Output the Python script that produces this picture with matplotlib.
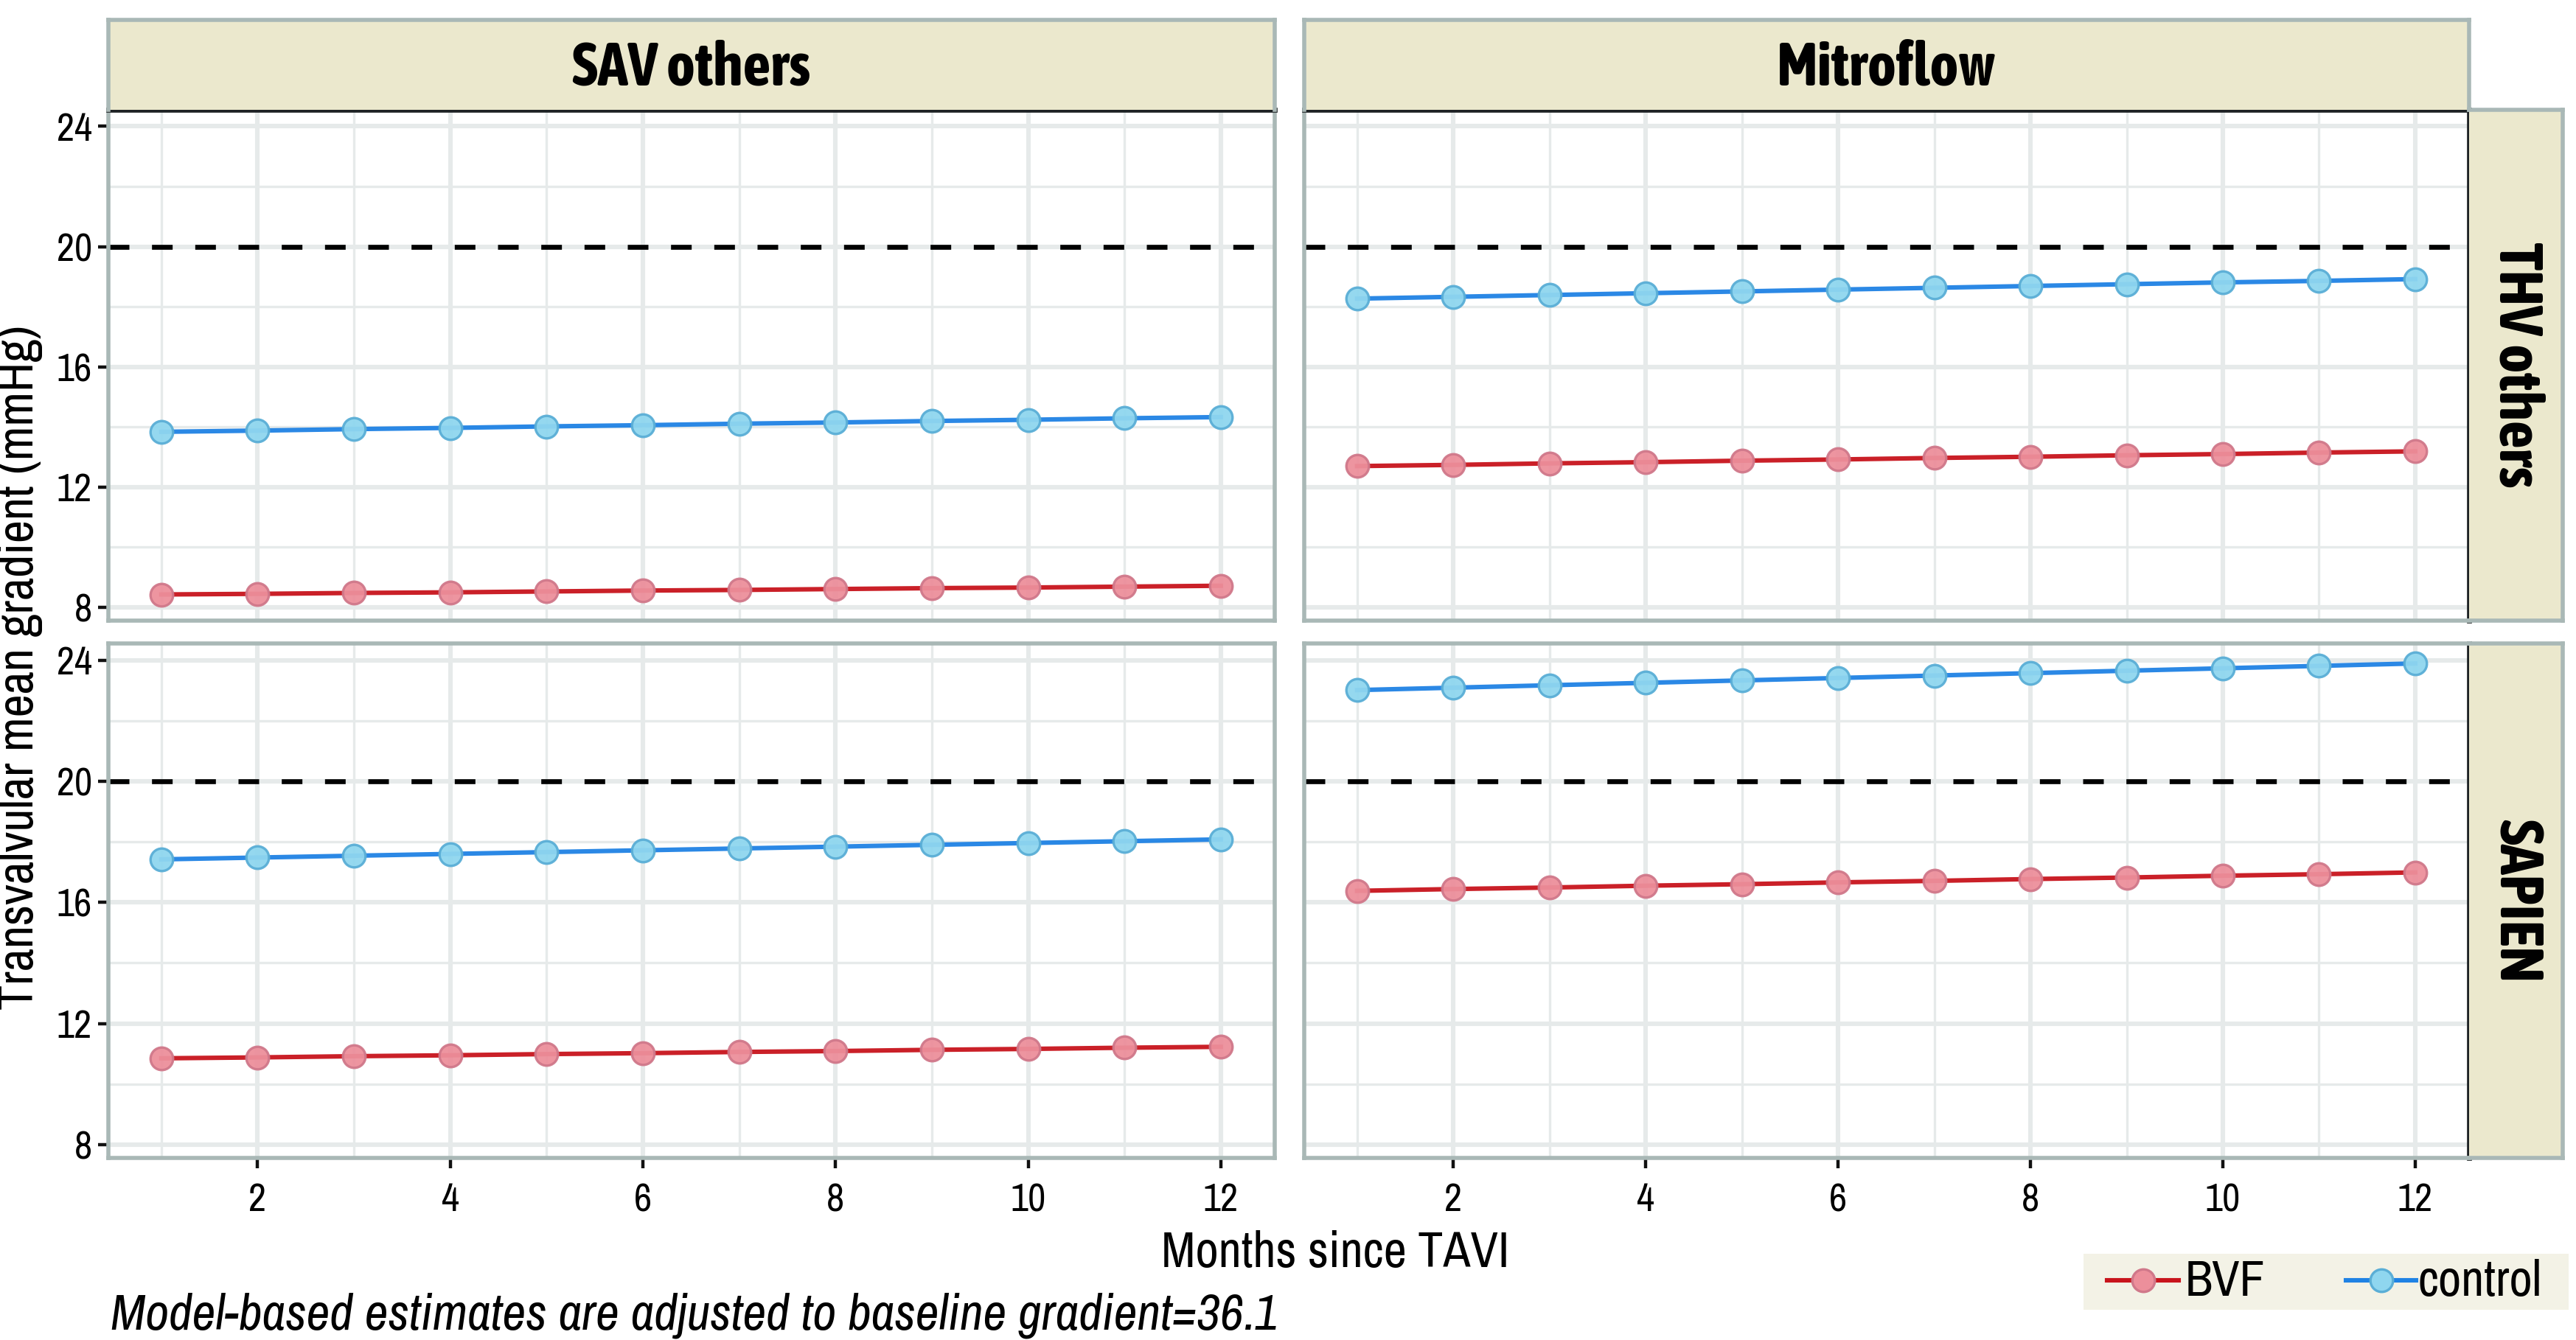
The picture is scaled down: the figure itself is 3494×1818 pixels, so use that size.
import matplotlib
matplotlib.use("Agg")
import matplotlib.pyplot as plt
from matplotlib.lines import Line2D
from matplotlib import font_manager

# ---------------- data ----------------
months = [1, 2, 3, 4, 5, 6, 7, 8, 9, 10, 11, 12]
col_labels = ["SAV others", "Mitroflow"]
row_labels = ["THV others", "SAPIEN"]

# THV others / SAV others
bvf_thv_sav = [8.43, 8.45, 8.48, 8.50, 8.53, 8.56, 8.58, 8.61, 8.64, 8.66, 8.69, 8.72]
ctl_thv_sav = [13.84, 13.88, 13.93, 13.97, 14.02, 14.06, 14.11, 14.15, 14.20, 14.24, 14.29, 14.33]
# THV others / Mitroflow
bvf_thv_mit = [12.70, 12.74, 12.79, 12.83, 12.88, 12.92, 12.97, 13.01, 13.06, 13.10, 13.15, 13.19]
ctl_thv_mit = [18.27, 18.33, 18.39, 18.45, 18.51, 18.57, 18.63, 18.69, 18.75, 18.81, 18.86, 18.92]
# SAPIEN / SAV others
bvf_sap_sav = [10.85, 10.88, 10.92, 10.95, 10.99, 11.02, 11.06, 11.09, 11.13, 11.16, 11.20, 11.23]
ctl_sap_sav = [17.42, 17.48, 17.54, 17.60, 17.66, 17.72, 17.78, 17.84, 17.90, 17.96, 18.02, 18.08]
# SAPIEN / Mitroflow
bvf_sap_mit = [16.38, 16.44, 16.49, 16.55, 16.60, 16.66, 16.71, 16.77, 16.82, 16.88, 16.93, 16.99]
ctl_sap_mit = [23.01, 23.09, 23.17, 23.25, 23.33, 23.41, 23.49, 23.57, 23.65, 23.73, 23.81, 23.89]

threshold = 20
x_ticks = [2, 4, 6, 8, 10, 12]
y_ticks = [8, 12, 16, 20, 24]
series_names = ["BVF", "control"]

panels = {
    (0, 0): (bvf_thv_sav, ctl_thv_sav),
    (0, 1): (bvf_thv_mit, ctl_thv_mit),
    (1, 0): (bvf_sap_sav, ctl_sap_sav),
    (1, 1): (bvf_sap_mit, ctl_sap_mit),
}

# ---------------- fonts ----------------
def _w(v):
    if isinstance(v, (int, float)):
        return v
    return font_manager.weight_dict.get(str(v).lower(), 400)

narrow = {}
for f in font_manager.fontManager.ttflist:
    if "Narrow" in f.name or "Condensed" in f.name:
        narrow.setdefault(f.name, set()).add((_w(f.weight), f.style))
names = sorted(narrow)
FONT = None
for n in names:
    if any(w < 500 and s == "normal" for w, s in narrow[n]):
        FONT = n
        break
BOLD_FONT = None
for n in names:
    if any(w >= 600 and s == "normal" for w, s in narrow[n]):
        BOLD_FONT = n
        break
ITAL_FONT = None
for n in names:
    if any(w < 500 and s in ("italic", "oblique") for w, s in narrow[n]):
        ITAL_FONT = n
        break
if FONT is None:
    FONT = "Liberation Sans"
if BOLD_FONT is None:
    BOLD_FONT = FONT
if ITAL_FONT is None:
    ITAL_FONT = FONT
plt.rcParams["font.family"] = [FONT, "DejaVu Sans"]

W, H = 3494, 1818
DPI = 200
fig = plt.figure(figsize=(W / DPI, H / DPI), dpi=DPI)
fig.patch.set_facecolor("white")

def fx(px):
    return px / W

def fy(py):
    return 1 - py / H

col_x = [(147, 1729), (1769, 3349)]
row_y = [(149, 842), (873, 1571)]
strip_top = (27, 149)
strip_right = (3349, 3476)

BORDER = "#a9b8b6"
GRID = "#e6eaea"
STRIP = "#ebe8cd"
BVF_LINE = "#c8141c"
BVF_FILL = "#ec8f9b"
BVF_EDGE = "#d0788a"
CTL_LINE = "#1f82e4"
CTL_FILL = "#8fd6ef"
CTL_EDGE = "#5aaed6"

xlim = (0.45, 12.56)
ylim = (7.56, 24.55)

TICK_FS = 19
STRIP_FS = 30
LAB_FS = 24.5
CAP_FS = 25

for (r, c), (bvf, ctl) in panels.items():
    x0, x1 = col_x[c]
    y0, y1 = row_y[r]
    ax = fig.add_axes([fx(x0), fy(y1), fx(x1 - x0), (y1 - y0) / H])
    ax.set_xlim(*xlim)
    ax.set_ylim(*ylim)
    ax.set_facecolor("white")
    for xv in [1, 3, 5, 7, 9, 11]:
        ax.axvline(xv, color=GRID, lw=1.2, zorder=0)
    for xv in x_ticks:
        ax.axvline(xv, color=GRID, lw=2.2, zorder=0)
    for yv in [10, 14, 18, 22]:
        ax.axhline(yv, color=GRID, lw=1.2, zorder=0)
    for yv in y_ticks:
        ax.axhline(yv, color=GRID, lw=2.2, zorder=0)
    ax.axhline(threshold, color="black", lw=2.4, dashes=(4.2, 4.6), zorder=1)

    ax.plot(months, bvf, color=BVF_LINE, lw=2.2, marker="o", ms=11,
            mfc=BVF_FILL, mec=BVF_EDGE, mew=1.2, alpha=0.95, zorder=3)
    ax.plot(months, ctl, color=CTL_LINE, lw=2.2, marker="o", ms=11,
            mfc=CTL_FILL, mec=CTL_EDGE, mew=1.2, alpha=0.95, zorder=3)

    for sp in ax.spines.values():
        sp.set_color(BORDER)
        sp.set_linewidth(2.0)
    if r == 0:
        ax.spines["top"].set_color("#1e2224")
        ax.spines["top"].set_linewidth(2.4)
    if c == 1:
        ax.spines["right"].set_color("#1e2224")
        ax.spines["right"].set_linewidth(2.4)

    ax.set_xticks(x_ticks)
    ax.set_yticks(y_ticks)
    ax.tick_params(axis="both", length=5, width=1.6, color="#111111",
                   labelsize=TICK_FS, pad=3)
    if c == 0:
        ax.set_yticklabels([str(v) for v in y_ticks])
    else:
        ax.tick_params(axis="y", left=False, labelleft=False)
    if r == 1:
        ax.set_xticklabels([str(v) for v in x_ticks])
        ax.tick_params(axis="x", pad=7)
    else:
        ax.tick_params(axis="x", bottom=False, labelbottom=False)

# top strips
for c, lab in enumerate(col_labels):
    x0, x1 = col_x[c]
    sax = fig.add_axes([fx(x0), fy(strip_top[1]), fx(x1 - x0), (strip_top[1] - strip_top[0]) / H])
    sax.set_facecolor(STRIP)
    sax.set_xticks([]); sax.set_yticks([])
    for sp in sax.spines.values():
        sp.set_color(BORDER); sp.set_linewidth(2.0)
    sax.spines["bottom"].set_visible(False)
    sax.text(0.5, 0.46, lab, ha="center", va="center", fontsize=STRIP_FS,
             fontweight="bold", family=[BOLD_FONT, "DejaVu Sans"], transform=sax.transAxes)

# right strips
for r, lab in enumerate(row_labels):
    y0, y1 = row_y[r]
    sax = fig.add_axes([fx(strip_right[0]), fy(y1), fx(strip_right[1] - strip_right[0]), (y1 - y0) / H])
    sax.set_facecolor(STRIP)
    sax.set_xticks([]); sax.set_yticks([])
    for sp in sax.spines.values():
        sp.set_color(BORDER); sp.set_linewidth(2.0)
    sax.spines["left"].set_visible(False)
    sax.text(0.5, 0.5, lab, ha="center", va="center", fontsize=STRIP_FS,
             fontweight="bold", family=[BOLD_FONT, "DejaVu Sans"], rotation=270,
             transform=sax.transAxes)

# axis titles
fig.text(fx(26), fy(905), "Transvalvular mean gradient (mmHg)",
         rotation=90, ha="center", va="center", fontsize=LAB_FS)
fig.text(fx(1811), fy(1700), "Months since TAVI", ha="center", va="center", fontsize=LAB_FS)
fig.text(fx(150), fy(1785), "Model-based estimates are adjusted to baseline gradient=36.1",
         ha="left", va="center", fontsize=CAP_FS, style="italic",
         family=[ITAL_FONT, "DejaVu Sans"])

# legend (manual layout inside a shaded box)
LX0, LX1, LY0, LY1 = 2826, 3484, 1701, 1777
lax = fig.add_axes([fx(LX0), fy(LY1), fx(LX1 - LX0), (LY1 - LY0) / H])
lax.set_facecolor("#f3f2e6")
lax.set_xlim(LX0, LX1)
lax.set_ylim(0, 1)
lax.set_xticks([]); lax.set_yticks([])
for sp in lax.spines.values():
    sp.set_visible(False)
legend_items = [
    (series_names[0], BVF_LINE, BVF_FILL, BVF_EDGE, 2858, 2955, 2964),
    (series_names[1], CTL_LINE, CTL_FILL, CTL_EDGE, 3182, 3277, 3280),
]
for name, lc, fc, ec, a, b, t in legend_items:
    lax.add_line(Line2D([a, b], [0.52, 0.52], color=lc, lw=2.2))
    lax.add_line(Line2D([(a + b) / 2], [0.52], marker="o", ms=11, mfc=fc,
                        mec=ec, mew=1.2, linestyle="none"))
    lax.text(t, 0.5, name, ha="left", va="center", fontsize=LAB_FS)

fig.savefig("out.png", dpi=DPI, facecolor="white")
